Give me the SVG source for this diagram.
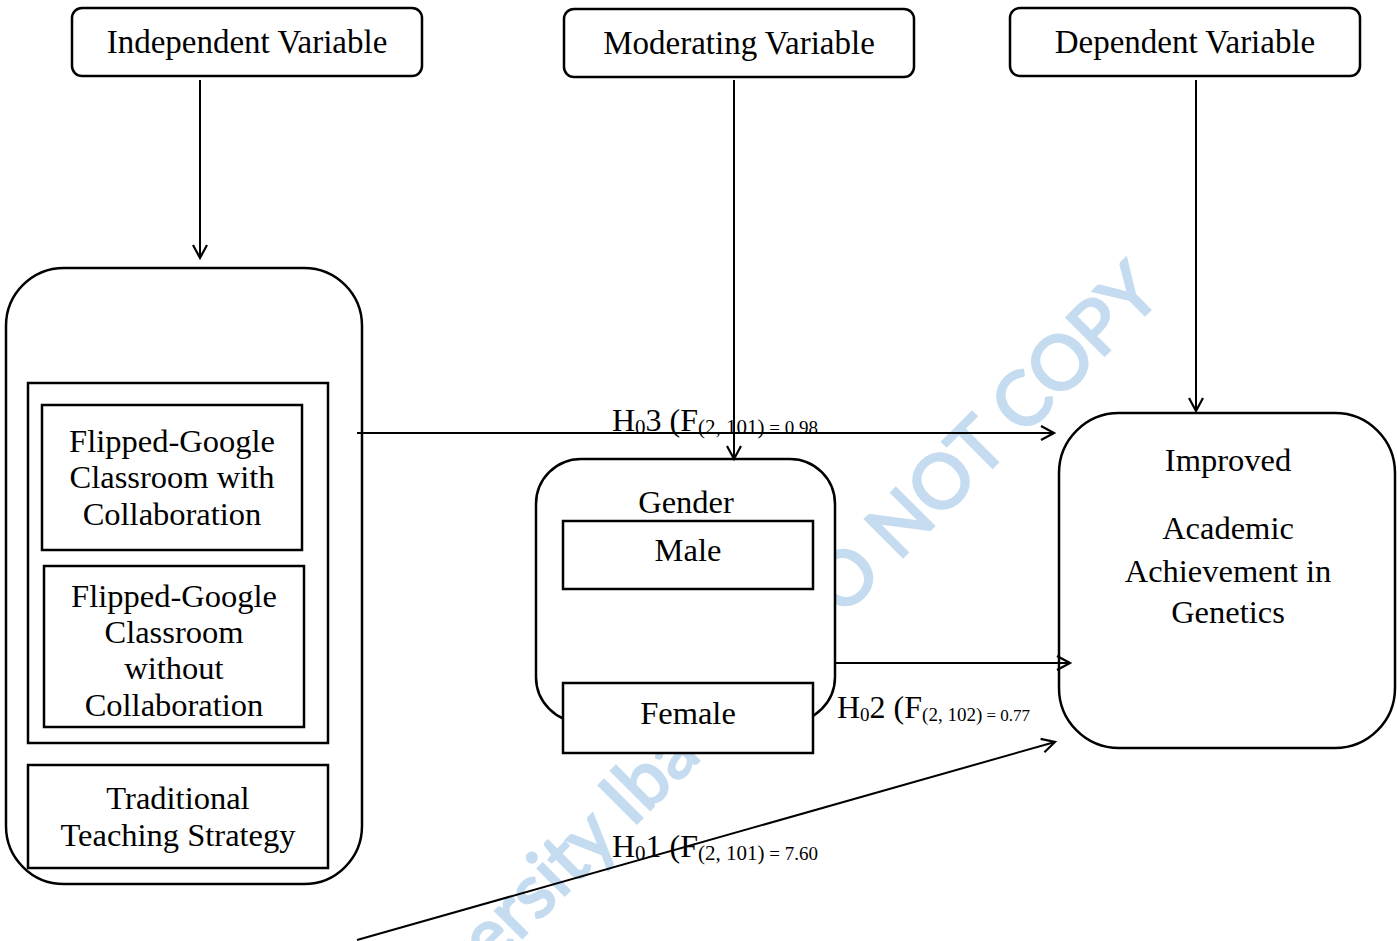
<svg xmlns="http://www.w3.org/2000/svg" width="1397" height="941" viewBox="0 0 1397 941">
<defs>
<marker id="arr" markerUnits="userSpaceOnUse" markerWidth="18" markerHeight="18" refX="15" refY="9" orient="auto">
<path d="M2,2 L15,9 L2,16" fill="none" stroke="#000" stroke-width="2.2"/>
</marker>
</defs>
<style>
.t{font-family:"Liberation Serif","Times New Roman",serif;font-size:32.5px;fill:#000;text-anchor:middle}
.tt{font-size:33px}
.l{font-family:"Liberation Serif","Times New Roman",serif;font-size:32px;fill:#000}
.box{fill:#fff;stroke:#000;stroke-width:2.5}
.con{fill:none;stroke:#000;stroke-width:2;marker-end:url(#arr)}
.wm{font-family:Lato,"Open Sans",sans-serif;font-size:75px;fill:#c5dcf0;stroke:#c5dcf0;stroke-width:2.5}
</style>
<rect width="1397" height="941" fill="#fff"/>
<text class="wm" text-anchor="end" transform="translate(1164,296) rotate(-45)">University Ibadan DO NOT COPY</text>

<g id="independent-variable">
<rect class="box" x="72" y="8" width="350" height="68" rx="10"/>
<text class="t tt" x="247" y="53">Independent Variable</text>
</g>
<g id="moderating-variable">
<rect class="box" x="564" y="9" width="350" height="68" rx="10"/>
<text class="t tt" x="739" y="54">Moderating Variable</text>
</g>
<g id="dependent-variable">
<rect class="box" x="1010" y="8" width="350" height="68" rx="10"/>
<text class="t tt" x="1185" y="53">Dependent Variable</text>
</g>

<g id="strategies">
<rect class="box" x="6" y="268" width="356" height="616" rx="58"/>
<rect class="box" x="28" y="383" width="300" height="360"/>
<g id="fgc-with">
<rect class="box" x="42" y="405" width="260" height="145"/>
<text class="t" x="172" y="452">Flipped-Google</text>
<text class="t" x="172" y="488">Classroom with</text>
<text class="t" x="172" y="525">Collaboration</text>
</g>
<g id="fgc-without">
<rect class="box" x="44" y="566" width="260" height="161"/>
<text class="t" x="174" y="607">Flipped-Google</text>
<text class="t" x="174" y="643">Classroom</text>
<text class="t" x="174" y="679">without</text>
<text class="t" x="174" y="716">Collaboration</text>
</g>
<g id="traditional">
<rect class="box" x="28" y="765" width="300" height="103"/>
<text class="t" x="178" y="809">Traditional</text>
<text class="t" x="178" y="846">Teaching Strategy</text>
</g>
</g>

<g id="gender">
<rect class="box" x="536" y="459" width="299" height="263" rx="45"/>
<text class="t" x="686" y="513">Gender</text>
<g id="male">
<rect class="box" x="563" y="521" width="250" height="68"/>
<text class="t" x="688" y="561">Male</text>
</g>
<g id="female">
<rect class="box" x="563" y="683" width="250" height="70"/>
<text class="t" x="688" y="724">Female</text>
</g>
</g>

<g id="achievement">
<rect class="box" x="1059" y="413" width="336" height="335" rx="60"/>
<text class="t" x="1228" y="471">Improved</text>
<text class="t" x="1228" y="539">Academic</text>
<text class="t" x="1228" y="582">Achievement in</text>
<text class="t" x="1228" y="623">Genetics</text>
</g>

<g id="connectors">
<line class="con" x1="200" y1="80" x2="200" y2="258"/>
<line class="con" x1="734" y1="80" x2="734" y2="459"/>
<line class="con" x1="1196" y1="80" x2="1196" y2="411"/>
<line class="con" x1="357" y1="433" x2="1054" y2="433"/>
<line class="con" x1="835" y1="663" x2="1070" y2="663"/>
<line class="con" x1="357" y1="940" x2="1055" y2="742"/>
</g>

<g id="labels">
<text class="l" x="612" y="431">H<tspan font-size="21" dy="3">0</tspan><tspan dy="-3">3 (F</tspan><tspan font-size="21" dy="3">(2, 101)</tspan><tspan font-size="19"> = 0.98</tspan></text>
<text class="l" x="837" y="718" font-size="29">H<tspan font-size="19" dy="3">0</tspan><tspan dy="-3">2 (F</tspan><tspan font-size="19" dy="3">(2, 102)</tspan><tspan font-size="17"> = 0.77</tspan></text>
<text class="l" x="612" y="857">H<tspan font-size="21" dy="3">0</tspan><tspan dy="-3">1 (F</tspan><tspan font-size="21" dy="3">(2, 101)</tspan><tspan font-size="19"> = 7.60</tspan></text>
</g>
</svg>
